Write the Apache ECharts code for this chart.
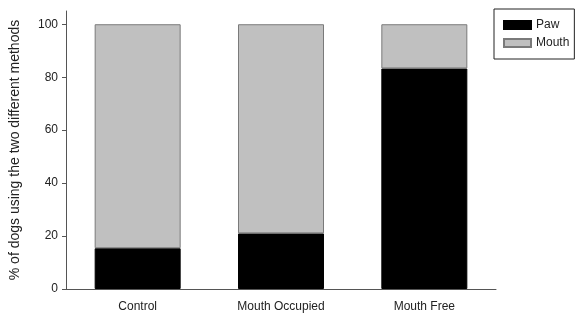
<!DOCTYPE html>
<html><head><meta charset="utf-8">
<script src="https://cdn.jsdelivr.net/npm/echarts@6/dist/echarts.min.js"></script>
<style>html,body{margin:0;padding:0;background:#fff}#c{width:576px;height:316px}</style>
</head><body><div id="c"></div>
<script>
const categories = ['Control', 'Mouth Occupied', 'Mouth Free'];
const pawValues = [15.4, 21.0, 83.3];
const mouthValues = [84.6, 79.0, 16.7];
const yTicks = [0, 20, 40, 60, 80, 100];
const yAxisTitle = '% of dogs using the two different methods';

const chart = echarts.init(document.getElementById('c'), null, {renderer: 'canvas'});
const font = 'Liberation Sans, Arial, sans-serif';
chart.setOption({
  animation: false,
  textStyle: {fontFamily: font},
  grid: {left: 63, right: 80, top: 11, bottom: 27},
  legend: {
    orient: 'vertical', left: 494, top: 9,
    data: ['Paw', 'Mouth'],
    itemWidth: 27, itemHeight: 8, itemGap: 6,
    padding: [10, 5, 10, 9],
    borderColor: '#222', borderWidth: 1,
    textStyle: {fontSize: 12, color: '#222', fontFamily: font},
    icon: 'rect'
  },
  xAxis: {
    type: 'category', data: categories,
    axisLine: {lineStyle: {color: '#555', width: 1}},
    axisTick: {alignWithLabel: true, length: 4, lineStyle: {color: '#555'}},
    axisLabel: {fontSize: 12, color: '#222', margin: 12, fontFamily: font}
  },
  yAxis: {
    type: 'value', min: 0, max: 105, interval: 20,
    name: yAxisTitle, nameLocation: 'middle', nameGap: 44, nameRotate: 90,
    nameTextStyle: {fontSize: 14, color: '#222', fontFamily: font},
    splitLine: {show: false},
    axisLine: {show: true, lineStyle: {color: '#555', width: 1}},
    axisTick: {show: true, length: 4, lineStyle: {color: '#555'}, customValues: yTicks},
    axisLabel: {fontSize: 12, color: '#222', margin: 8, fontFamily: font, customValues: yTicks}
  },
  series: [
    {name: 'Paw', type: 'bar', stack: 's', data: pawValues, barWidth: '60%',
     itemStyle: {color: '#000', borderColor: '#000', borderWidth: 1}},
    {name: 'Mouth', type: 'bar', stack: 's', data: mouthValues, barWidth: '60%',
     itemStyle: {color: '#c0c0c0', borderColor: '#7a7a7a', borderWidth: 1}}
  ]
});
</script></body></html>
